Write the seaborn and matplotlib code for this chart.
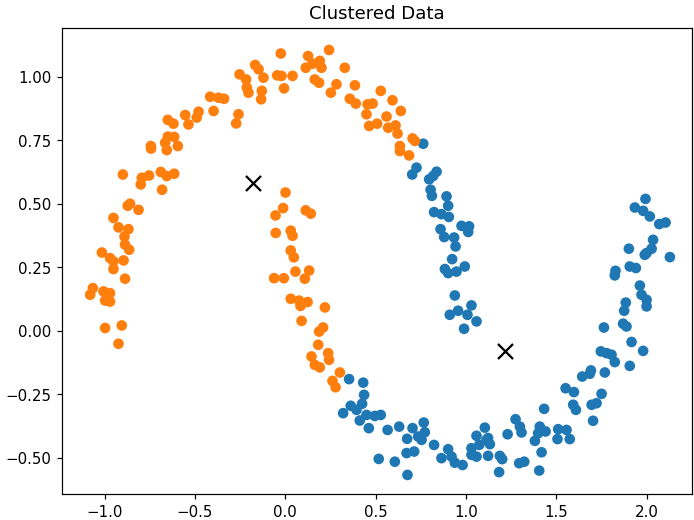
import numpy as np
import pandas as pd
import matplotlib
matplotlib.use("Agg")
import matplotlib.pyplot as plt
import seaborn as sns

# orange cluster (label 1)
orange_x = [-0.167, -0.148, -0.121, -0.253, -0.217, -0.213, -0.204, -0.130, -0.134, -0.416,
            -0.370, -0.339, -0.397, -0.259, -0.272, -0.554, -0.480, -0.490, -0.536, -0.650,
            -0.619, -0.650, -0.615, -0.665, -0.656, -0.595, -0.744, -0.743, -0.899, -0.794,
            -0.754, -0.689, -0.656, -0.615, -0.800, -0.682, -0.859, -0.872, -0.812, -0.951,
            -0.923, -0.868, -0.890, -0.887, -0.864, -1.015, -0.970, -0.951, -0.895, -0.951,
            -0.887, -1.065, -1.080, -1.006, -0.970, -0.997, -0.970, -0.997, -0.905, -0.923,
            -0.025, -0.045, -0.021, 0.040, -0.007, 0.126, 0.242, 0.191, 0.151, 0.113,
            0.200, 0.163, 0.187, 0.329, 0.283, 0.252, 0.385, 0.357, 0.390, 0.528,
            0.593, 0.455, 0.483, 0.449, 0.639, 0.560, 0.508, 0.464, 0.569, 0.610,
            0.621, 0.704, 0.717, 0.634, 0.634, 0.685,
            0.001, -0.012, -0.054, 0.113, 0.141, -0.053, 0.030, 0.040, 0.030, 0.047,
            0.056, 0.132, 0.108, -0.062, -0.008, 0.030, 0.076, 0.084, 0.123, 0.219,
            0.090, 0.209, 0.187, 0.182, 0.145, 0.237, 0.242, 0.163, 0.191, 0.302,
            0.261, 0.278]
orange_y = [1.046, 1.029, 0.996, 1.009, 0.989, 0.957, 0.937, 0.944, 0.911, 0.921,
            0.917, 0.913, 0.865, 0.852, 0.816, 0.849, 0.862, 0.839, 0.812, 0.830,
            0.815, 0.764, 0.763, 0.740, 0.711, 0.727, 0.727, 0.717, 0.615, 0.602,
            0.611, 0.625, 0.609, 0.618, 0.576, 0.555, 0.500, 0.492, 0.476, 0.444,
            0.407, 0.400, 0.371, 0.339, 0.319, 0.308, 0.286, 0.273, 0.277, 0.243,
            0.205, 0.168, 0.142, 0.155, 0.148, 0.119, 0.115, 0.011, 0.021, -0.051,
            1.091, 1.005, 1.003, 1.003, 0.954, 1.081, 1.105, 1.062, 1.051, 1.035,
            1.035, 0.989, 0.976, 1.035, 0.970, 0.937, 0.966, 0.913, 0.894, 0.944,
            0.907, 0.891, 0.894, 0.852, 0.865, 0.843, 0.815, 0.806, 0.799, 0.808,
            0.776, 0.757, 0.747, 0.727, 0.707, 0.690,
            0.544, 0.483, 0.454, 0.474, 0.461, 0.385, 0.394, 0.374, 0.316, 0.289,
            0.233, 0.237, 0.205, 0.207, 0.207, 0.126, 0.119, 0.098, 0.113, 0.092,
            0.039, 0.013, -0.003, -0.055, -0.101, -0.088, -0.114, -0.134, -0.144, -0.164,
            -0.197, -0.222]

# blue cluster (label 0)
blue_x = [0.763, 0.726, 0.702, 0.837, 0.818, 0.796, 0.804, 0.811, 0.892, 0.901,
          0.823, 0.864, 0.905, 0.859, 0.975, 1.017, 1.012, 0.879, 0.934, 0.942,
          0.923, 0.883, 0.901, 0.947, 0.993, 0.938, 0.910, 0.956, 1.008, 1.030,
          1.058, 0.989,
          1.993, 1.934, 1.980, 2.017, 2.069, 2.104, 2.035, 1.901, 2.027, 1.999,
          1.989, 2.128, 1.827, 1.823, 1.906, 1.940, 1.962, 1.971, 1.999, 1.999,
          1.884, 1.875, 1.869, 1.888, 1.763,
          1.916, 1.980, 1.746, 1.778, 1.805, 1.823, 1.906, 1.768, 1.691, 1.685,
          1.643, 1.551, 1.597, 1.750, 1.722, 1.695, 1.593, 1.608, 1.703, 1.432,
          1.274, 1.298, 1.307, 1.230, 1.122, 1.132, 1.187, 1.200, 1.183, 1.294,
          1.322, 1.405, 1.418, 1.381, 1.399, 1.408, 1.440, 1.510, 1.556, 1.506,
          1.574,
          0.353, 0.431, 0.436, 0.425, 0.362, 0.394, 0.320, 0.449, 0.495, 0.528,
          0.412, 0.462, 0.566, 0.630, 0.704, 0.766, 0.772, 0.735, 0.674, 0.754,
          0.823, 0.671, 0.713, 0.517, 0.606, 0.676, 0.901, 0.864, 0.920, 0.938,
          0.981, 1.030, 1.030, 1.058, 1.073, 1.058, 1.104, 1.113, 1.122]
blue_y = [0.736, 0.642, 0.615, 0.626, 0.609, 0.596, 0.555, 0.531, 0.529, 0.492,
          0.467, 0.459, 0.448, 0.400, 0.413, 0.411, 0.389, 0.369, 0.367, 0.332,
          0.282, 0.243, 0.227, 0.233, 0.253, 0.139, 0.063, 0.079, 0.063, 0.100,
          0.037, 0.008,
          0.519, 0.485, 0.472, 0.450, 0.420, 0.426, 0.358, 0.323, 0.323, 0.306,
          0.299, 0.290, 0.236, 0.218, 0.253, 0.247, 0.178, 0.142, 0.122, 0.096,
          0.111, 0.079, 0.028, 0.017, 0.013,
          -0.044, -0.079, -0.081, -0.088, -0.094, -0.123, -0.138, -0.164, -0.156, -0.169,
          -0.180, -0.226, -0.241, -0.248, -0.285, -0.291, -0.291, -0.311, -0.354, -0.307,
          -0.348, -0.377, -0.400, -0.407, -0.422, -0.446, -0.492, -0.505, -0.556, -0.521,
          -0.515, -0.550, -0.478, -0.433, -0.403, -0.377, -0.396, -0.387, -0.390, -0.426,
          -0.426,
          -0.190, -0.204, -0.252, -0.287, -0.295, -0.311, -0.324, -0.331, -0.335, -0.331,
          -0.353, -0.383, -0.390, -0.377, -0.383, -0.361, -0.399, -0.416, -0.425, -0.429,
          -0.449, -0.481, -0.475, -0.504, -0.515, -0.567, -0.466, -0.501, -0.495, -0.519,
          -0.528, -0.462, -0.488, -0.495, -0.449, -0.413, -0.381, -0.429, -0.492]

# cluster centres
center_x = [-0.180, 1.215]
center_y = [0.583, -0.081]

df = pd.DataFrame({
    "x": blue_x + orange_x,
    "y": blue_y + orange_y,
    "cluster": [0] * len(blue_x) + [1] * len(orange_x),
})

fig = plt.figure(figsize=(6.4, 4.8), dpi=108.44)
ax = fig.add_axes([0.089, 0.05, 0.908, 0.896])
sns.scatterplot(data=df, x="x", y="y", hue="cluster",
                palette=["#1f77b4", "#ff7f0e"], s=50, linewidth=0,
                legend=False, ax=ax)
ax.scatter(center_x, center_y, c="black", s=100, marker="x", linewidths=1.5)
ax.set_xlim(-1.237, 2.25)
ax.set_ylim(-0.642, 1.193)
ax.set_xlabel("")
ax.set_ylabel("")
ax.set_title("Clustered Data")
fig.savefig("out.png", dpi=108.44)
